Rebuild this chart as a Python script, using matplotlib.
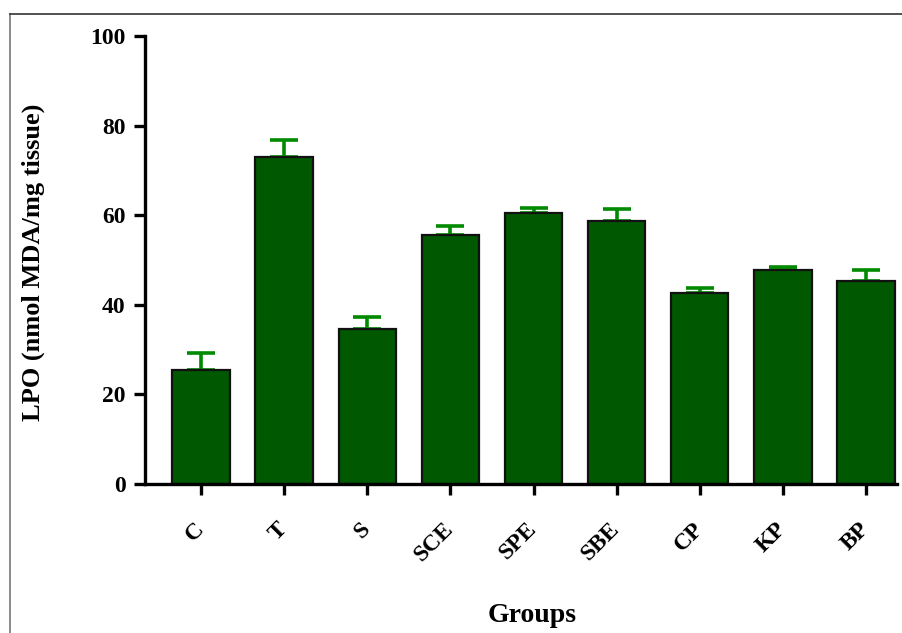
import matplotlib
matplotlib.use("Agg")
import matplotlib.pyplot as plt
from matplotlib.lines import Line2D

# LPO levels per group, with upper error (SEM)
groups = ["C", "T", "S", "SCE", "SPE", "SBE", "CP", "KP", "BP"]
lpo = [25.4, 73.0, 34.6, 55.6, 60.4, 58.8, 42.6, 47.8, 45.3]
sem = [3.8, 3.8, 2.7, 2.0, 1.3, 2.5, 1.1, 0.7, 2.5]

plt.rcParams["font.family"] = ["Liberation Serif", "DejaVu Serif"]
plt.rcParams["font.weight"] = "bold"

fig = plt.figure(figsize=(9.03, 6.33), dpi=100)
ax = fig.add_axes([0.1606, 0.2354, 0.8328, 0.7077])

x = list(range(len(groups)))
ax.bar(x, lpo, width=0.69, color="#005800", edgecolor="#111111",
       linewidth=1.6, zorder=2)
ax.errorbar(x, lpo, yerr=[[0] * len(sem), sem], fmt="none",
            ecolor="#008a00", elinewidth=2.6, capsize=10, capthick=2.6,
            zorder=1)

ax.set_xlim(-0.674, 8.373)
ax.set_ylim(0, 100)
ax.set_yticks([0, 20, 40, 60, 80, 100])
ax.set_xticks(x)
ax.set_xticklabels(groups, rotation=45, ha="right", va="center",
                   rotation_mode="anchor")

for side in ("top", "right"):
    ax.spines[side].set_visible(False)
for side in ("left", "bottom"):
    ax.spines[side].set_linewidth(2.4)
ax.tick_params(axis="both", width=2.4, length=8, labelsize=17)
ax.tick_params(axis="x", pad=22)
ax.tick_params(axis="y", pad=6)

fig.text(33 / 903, 1 - 262 / 633, "LPO (nmol MDA/mg tissue)", rotation=90,
         ha="center", va="center", fontsize=19, fontweight="bold")
fig.text(532 / 903, 1 - 615 / 633, "Groups", ha="center", va="center",
         fontsize=20, fontweight="bold")

# page frame visible along the left and top edges
fig.add_artist(Line2D([10 / 903, 10 / 903], [0, 1 - 14 / 633],
                      transform=fig.transFigure, color="#777777", lw=1.2))
fig.add_artist(Line2D([10 / 903, 1], [1 - 14 / 633, 1 - 14 / 633],
                      transform=fig.transFigure, color="#333333", lw=1.2))

fig.savefig("out.png", dpi=100)
